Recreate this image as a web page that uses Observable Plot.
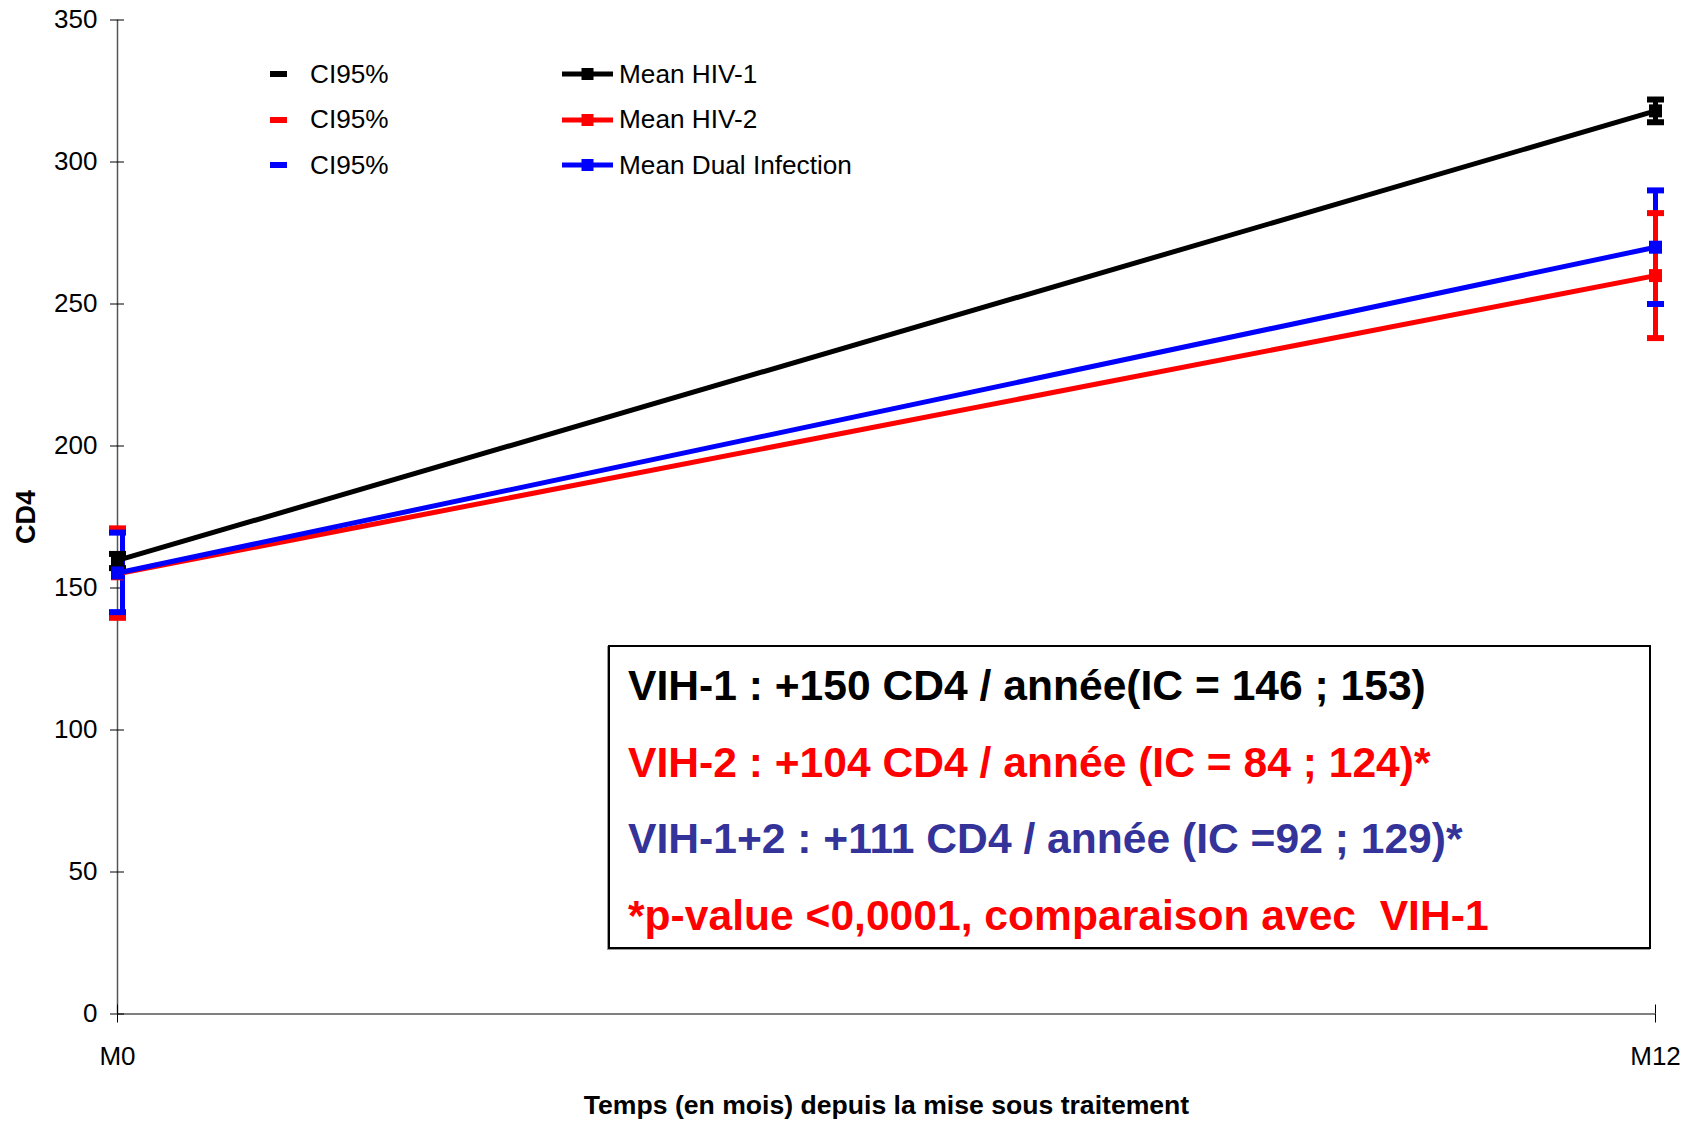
<!DOCTYPE html>
<html><head><meta charset="utf-8">
<script src="https://cdn.jsdelivr.net/npm/d3@7"></script>
<script src="https://cdn.jsdelivr.net/npm/@observablehq/plot@0.6"></script>
<style>
body{margin:0;background:#fff;}
#wrap{position:relative;width:1687px;height:1123px;font-family:"Liberation Sans",Arial,sans-serif;}
#legend{position:absolute;left:270px;top:51px;}
.row{position:absolute;height:46px;display:flex;align-items:center;font-size:26.2px;white-space:nowrap;color:#000;}
.row svg{display:block;}
#box{position:absolute;left:608px;top:645px;width:1043px;height:304px;box-sizing:border-box;border:2px solid #000;box-shadow:-1px 1px 0 #999;padding-left:18px;padding-top:0;font-weight:bold;font-size:42.6px;line-height:76.5px;white-space:pre;background:#fff;}
svg [aria-label="y-axis label"] text{font-weight:bold;font-size:27px;}
svg [aria-label="x-axis label"] text{font-weight:bold;font-size:26.6px;}
</style></head><body><div id="wrap"></div>
<script>
// ---- data ----
const months = [0, 12];
const monthLabels = ["M0", "M12"];
const yTicks = [0, 50, 100, 150, 200, 250, 300, 350];
const seriesNames = ["Mean HIV-1", "Mean HIV-2", "Mean Dual Infection"];
const seriesColors = ["#000000", "#ff0000", "#0000ff"];
const meanHIV1 = [159.7, 318];
const meanHIV2 = [155, 260];
const meanDual = [155.3, 270];
const ciLowHIV1 = [157, 314];
const ciHighHIV1 = [162, 322];
const ciLowHIV2 = [139.5, 238];
const ciHighHIV2 = [171, 282];
const ciLowDual = [141.5, 250];
const ciHighDual = [169.5, 290];
const ciLabel = "CI95%";
const annotationLines = [
  "VIH-1 : +150 CD4 / année(IC = 146 ; 153)",
  "VIH-2 : +104 CD4 / année (IC = 84 ; 124)*",
  "VIH-1+2 : +111 CD4 / année (IC =92 ; 129)*",
  "*p-value <0,0001, comparaison avec  VIH-1"
];
const annotationColors = ["#000000", "#ff0000", "#333399", "#ff0000"];
const xTitle = "Temps (en mois) depuis la mise sous traitement";
const yTitle = "CD4";

// ---- table ----
const means = [meanHIV1, meanHIV2, meanDual];
const lows = [ciLowHIV1, ciLowHIV2, ciLowDual];
const highs = [ciHighHIV1, ciHighHIV2, ciHighDual];
const rows = months.flatMap((m, i) => seriesNames.map((s, j) => ({
  month: m, series: s, order: j, mean: means[j][i], low: lows[j][i], high: highs[j][i], color: seriesColors[j]
})));
// vertical bars: at M0 blue on top, at M12 red on top
const ciM0 = rows.filter(d => d.month === months[0]);
const ciM12 = rows.filter(d => d.month === months[1]).sort((a, b) => [0, 2, 1][a.order] - [0, 2, 1][b.order]);

const capSymbol = {draw(ctx) { ctx.rect(-8.5, -3, 17, 6); }};
const squareSymbol = {draw(ctx) { ctx.rect(-6.5, -6.5, 13, 13); }};

const chart = Plot.plot({
  width: 1687, height: 1123,
  marginLeft: 117, marginRight: 32, marginTop: 19.5, marginBottom: 109.5,
  x: {domain: [0, 12]},
  y: {domain: [0, 350]},
  color: {type: "identity"},
  style: {fontFamily: "'Liberation Sans', Arial, sans-serif", fontSize: "26px", background: "#fff", color: "#000"},
  marks: [
    Plot.ruleY([0], {stroke: "#808080", strokeWidth: 2}),
    Plot.ruleX([0], {stroke: "#555", strokeWidth: 1.5}),
    Plot.axisY({ticks: yTicks, tickSize: 7, tickPadding: 13, label: yTitle, labelAnchor: "center", labelOffset: 101.5, labelArrow: "none"}),
    Plot.axisY({ticks: yTicks, tickSize: 7, dx: 7, tickFormat: () => "", label: null}),
    Plot.axisX({ticks: months, tickSize: 9, tickPadding: 24, tickFormat: d => monthLabels[months.indexOf(d)], label: xTitle, labelAnchor: "center", labelOffset: 99.5, labelArrow: "none"}),
    Plot.axisX({ticks: months, tickSize: 9, dy: -9, tickFormat: () => "", label: null}),
    Plot.ruleX(ciM0, {x: "month", y1: "low", y2: "high", stroke: "color", strokeWidth: 5, dx: 5}),
    Plot.ruleX(ciM12, {x: "month", y1: "low", y2: "high", stroke: "color", strokeWidth: 5}),
    Plot.dot(rows, {x: "month", y: "low", symbol: capSymbol, fill: "color"}),
    Plot.dot(rows, {x: "month", y: "high", symbol: capSymbol, fill: "color"}),
    Plot.line(rows, {x: "month", y: "mean", z: "series", stroke: "color", strokeWidth: 5}),
    Plot.dot(rows, {x: "month", y: "mean", symbol: squareSymbol, fill: "color"})
  ]
});
const wrap = document.getElementById("wrap");
wrap.appendChild(chart);

// legend
const legend = document.createElement("div");
legend.id = "legend";
seriesNames.forEach((name, i) => {
  const r1 = document.createElement("div");
  r1.className = "row";
  r1.style.left = "0px"; r1.style.top = (i * 45.5) + "px";
  r1.innerHTML = `<svg width="17" height="6" style="margin-right:23px"><rect width="17" height="6" fill="${seriesColors[i]}"/></svg><span>${ciLabel}</span>`;
  legend.appendChild(r1);
  const r2 = document.createElement("div");
  r2.className = "row";
  r2.style.left = "292px"; r2.style.top = (i * 45.5) + "px";
  r2.innerHTML = `<svg width="51" height="14" style="margin-right:6px"><line x1="0" x2="51" y1="7" y2="7" stroke="${seriesColors[i]}" stroke-width="5"/><rect x="19.5" y="1" width="12" height="12" fill="${seriesColors[i]}"/></svg><span>${name}</span>`;
  legend.appendChild(r2);
});
wrap.appendChild(legend);

// annotation box
const box = document.createElement("div");
box.id = "box";
annotationLines.forEach((t, i) => {
  const d = document.createElement("div");
  d.textContent = t;
  d.style.color = annotationColors[i];
  box.appendChild(d);
});
wrap.appendChild(box);
</script></body></html>
